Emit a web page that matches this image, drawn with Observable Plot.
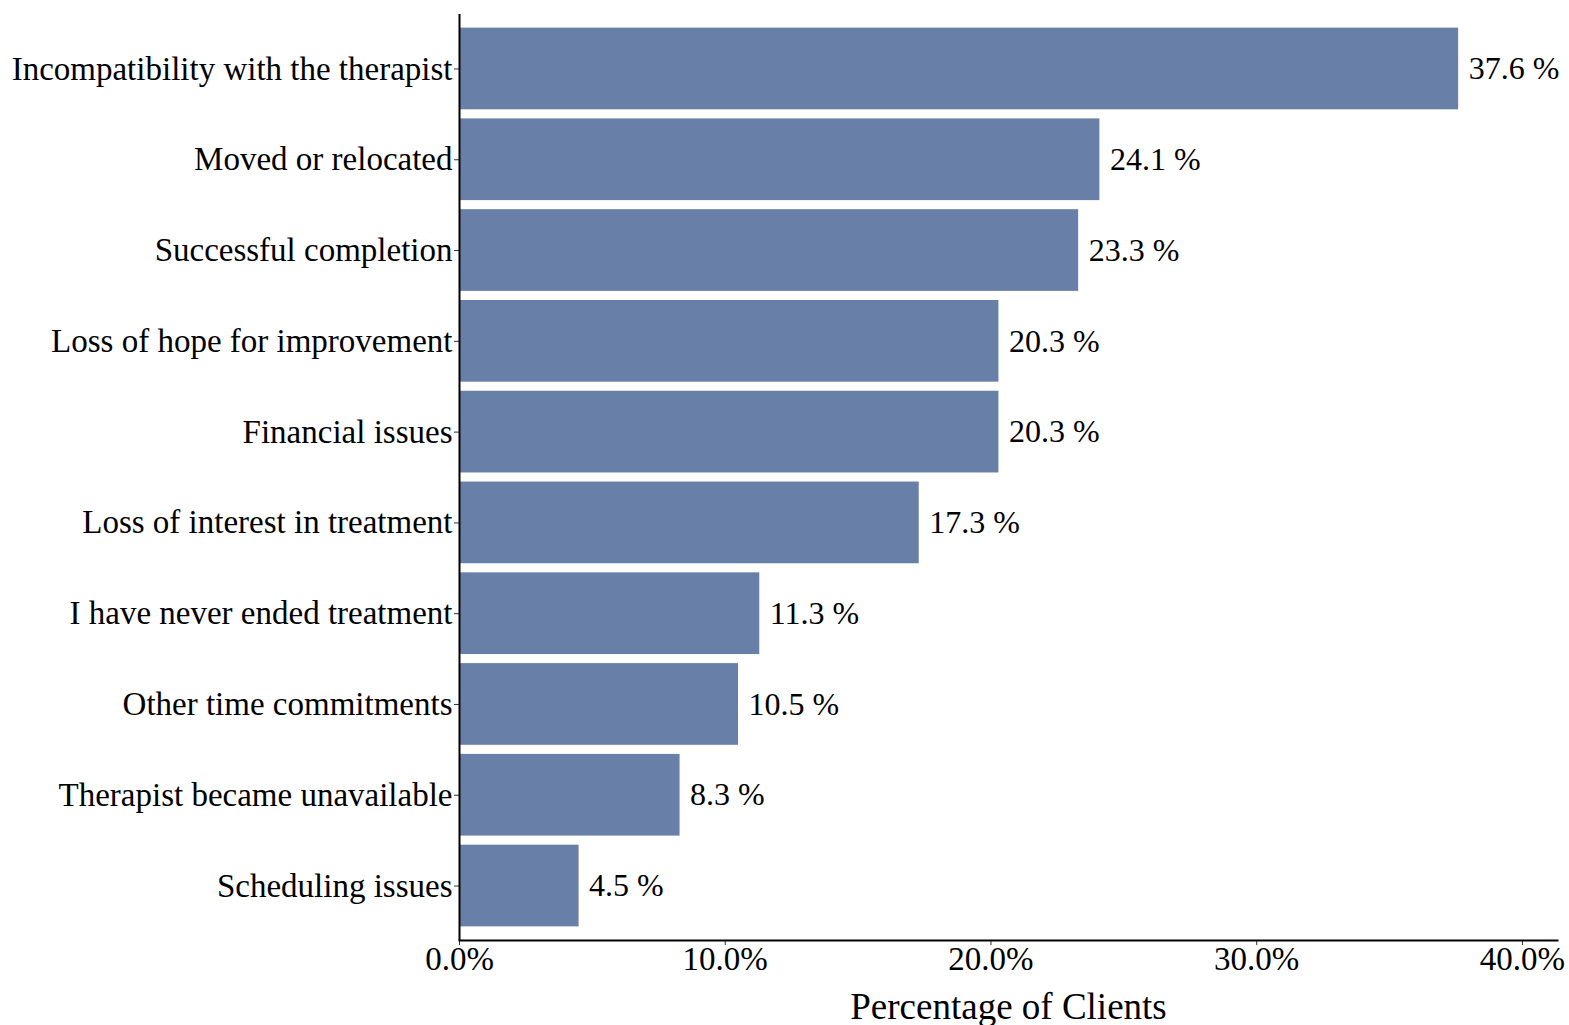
<!DOCTYPE html>
<html>
<head>
<meta charset="utf-8">
<script src="https://cdn.jsdelivr.net/npm/d3@7"></script>
<script src="https://cdn.jsdelivr.net/npm/@observablehq/plot@0.6"></script>
<style>
  html, body { margin: 0; padding: 0; background: #fff; }
  #chart svg { display: block; }
</style>
</head>
<body>
<div id="chart"></div>
<script>
const reasons = [
  "Incompatibility with the therapist",
  "Moved or relocated",
  "Successful completion",
  "Loss of hope for improvement",
  "Financial issues",
  "Loss of interest in treatment",
  "I have never ended treatment",
  "Other time commitments",
  "Therapist became unavailable",
  "Scheduling issues"
];
const percents = [37.6, 24.1, 23.3, 20.3, 20.3, 17.3, 11.3, 10.5, 8.3, 4.5];
const xTicks = [0, 10, 20, 30, 40];
const xLabel = "Percentage of Clients";

const data = reasons.map((r, i) => ({reason: r, pct: percents[i]}));
const font = "'Liberation Serif', 'Times New Roman', serif";

const chart = Plot.plot({
  width: 1569,
  height: 1025,
  marginTop: 14,
  marginBottom: 85,
  marginLeft: 459,
  marginRight: 12,
  style: {fontFamily: font, fontSize: "33px", color: "#000", background: "#fff"},
  x: {domain: [0, 41.32]},
  y: {domain: reasons, paddingInner: 0.1, paddingOuter: 0.15, round: false},
  marks: [
    Plot.barX(data, {x: "pct", y: "reason", fill: "#6880a8"}),
    Plot.text(data, {x: "pct", y: "reason", text: d => d.pct.toFixed(1) + " %", dx: 10, textAnchor: "start", fontSize: 32, fill: "#000"}),
    Plot.axisY({tickSize: 5, tickPadding: 2, fontSize: 33, label: null, stroke: "#333"}),
    Plot.axisX({ticks: xTicks, tickFormat: d => d.toFixed(1) + "%", tickSize: 5, tickPadding: 1, fontSize: 33, stroke: "#333", label: null}),
    Plot.axisX({ticks: [], tickSize: 0, label: xLabel, labelAnchor: "center", labelArrow: "none", labelOffset: 78, fontSize: 37}),
    Plot.ruleX([0], {stroke: "#000", strokeWidth: 2}),
    Plot.frame({anchor: "bottom", stroke: "#000", strokeWidth: 2})
  ]
});
document.getElementById("chart").appendChild(chart);
</script>
</body>
</html>
